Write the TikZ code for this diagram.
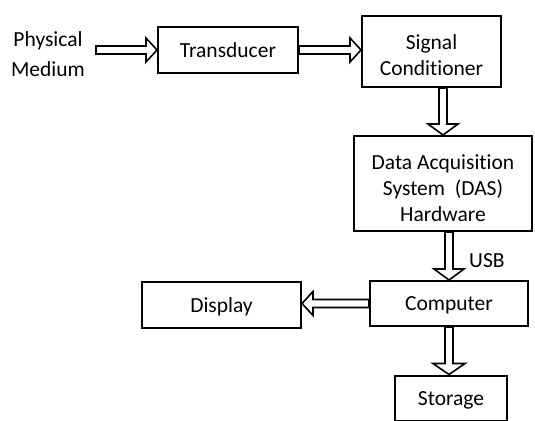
\documentclass[tikz,border=0pt]{standalone}
\usepackage{fontspec}
\setmainfont{Carlito}[Ligatures=NoCommon]
\usetikzlibrary{positioning}
\usetikzlibrary{calc}

\tikzset{
	block/.style={draw, line width=2.2pt, rectangle, align=center, inner sep=0pt, text depth=0pt, font=\fontsize{21.5}{26}\selectfont},
	txt/.style={align=center, inner sep=0pt, font=\fontsize{21.5}{26}\selectfont},
	flow/.style={draw, line width=1.6pt, fill=white, line join=miter},
}
% hollow block arrow from #2 to #3, head half width #1
\newcommand{\flowarrow}[3][12]{%
	\draw[flow] let \p1=(#2), \p2=(#3), \n1={atan2(\y2-\y1,\x2-\x1)}, \n2={veclen(\x2-\x1,\y2-\y1)} in
		[shift={(\p1)}, rotate=\n1] (0,-4) -- ({\n2-11},-4) -- ({\n2-11},-#1) -- (\n2,0) -- ({\n2-11},#1) -- ({\n2-11},4) -- (0,4) -- cycle;
}
% taller first line, pushes text down
\newcommand{\toppad}[1]{\rule{0pt}{#1}}

\begin{document}
\begin{tikzpicture}[x=1pt, y=-1pt]
		\path[use as bounding box, clip] (0,0) rectangle (535,420);
		\node[txt, text depth=0pt] at (48,54) (phys) {Physical\\[4pt]Medium};
		\coordinate (physend) at (96,50);
		\node[block, minimum width=139.8pt, minimum height=45.8pt] at (228,50) (trans) {Transducer};
		\node[block, minimum width=138.8pt, minimum height=70.8pt] at (431.5,51.5) (sc) {\toppad{21pt}Signal\\Conditioner};
		\node[block, minimum width=177.8pt, minimum height=94.8pt] at (443,183.5) (das) {\toppad{23pt}Data Acquisition\\System\ \ (DAS)\\Hardware};
		\node[block, minimum width=157.8pt, minimum height=44.8pt] at (449,303.5) (comp) {Computer};
		\node[block, minimum width=158.8pt, minimum height=45.8pt] at (221.5,305) (disp) {Display};
		\node[block, minimum width=111.8pt, minimum height=45.8pt] at (451,398.5) (stor) {Storage};
		\node[txt, anchor=west] at (469,261) (usb) {USB};
		\flowarrow{physend}{trans.west}
		\flowarrow{trans.east}{trans.east -| sc.west}
		\flowarrow[15]{das.north |- sc.south}{das.north}
		\flowarrow[15]{comp.north |- das.south}{comp.north}
		\flowarrow{comp.west}{comp.west -| disp.east}
		\flowarrow[16]{comp.south}{comp.south |- stor.north}
	\end{tikzpicture}
\end{document}
